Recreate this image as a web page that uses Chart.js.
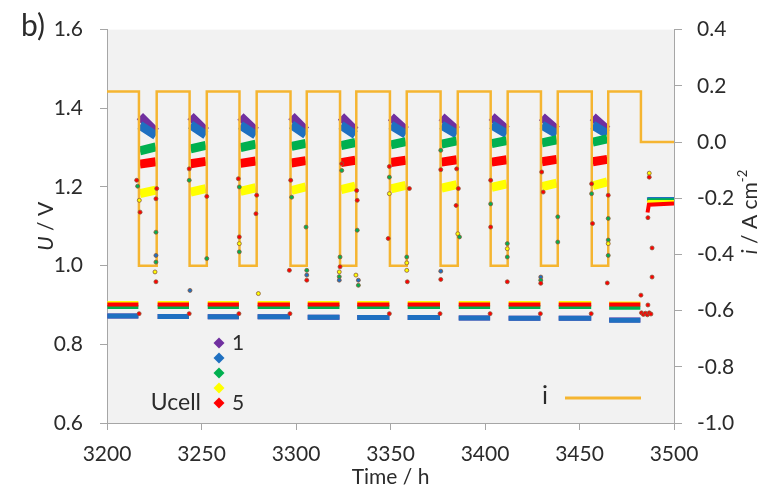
<!DOCTYPE html>
<html>
<head>
<meta charset="utf-8">
<script src="https://cdn.jsdelivr.net/npm/chart.js@4.4.1/dist/chart.umd.min.js"></script>
<style>
  body { margin: 0; background: #fff; }
  #wrap { width: 763px; height: 489px; position: relative; }
</style>
</head>
<body>
<div id="wrap"><canvas id="chart"></canvas></div>
<script>
// Current density profile (A cm-2), value changes at each time
const iTimes = [3200, 3216.9, 3226.3, 3243.7, 3252.8, 3270.1, 3279.2, 3297.1, 3305.7, 3323.3, 3331.9,
                3349.7, 3358.6, 3376.5, 3385.6, 3403.0, 3412.0, 3429.6, 3438.5, 3456.5, 3465.2, 3482.5, 3500];
const iValues = [0.18, -0.44, 0.18, -0.44, 0.18, -0.44, 0.18, -0.44, 0.18, -0.44, 0.18,
                 -0.44, 0.18, -0.44, 0.18, -0.44, 0.18, -0.44, 0.18, -0.44, 0.18, 0, 0];

// Operating periods (h)
const ecStart = [3217.4, 3244.2, 3270.6, 3297.6, 3323.8, 3350.2, 3377.0, 3403.5, 3430.1, 3457.0];
const ecEnd   = [3225.8, 3252.3, 3278.7, 3305.2, 3331.4, 3358.1, 3385.1, 3411.5, 3438.0, 3464.7];
const fcStart = [3200.2, 3226.8, 3253.3, 3279.7, 3306.2, 3332.4, 3359.1, 3386.1, 3412.5, 3439.0, 3465.7];
const fcEnd   = [3216.6, 3243.4, 3269.8, 3296.8, 3323.0, 3349.4, 3376.2, 3402.7, 3429.3, 3456.2, 3482.2];
const ocvTimes = [3486.0, 3486.7, 3500];

// Cell voltages (V): electrolysis [start, end], fuel cell level, open circuit
const cell1Ec = [[1.380, 1.340], [1.380, 1.342], [1.379, 1.342], [1.380, 1.343], [1.379, 1.343],
                 [1.378, 1.344], [1.378, 1.344], [1.379, 1.345], [1.378, 1.345], [1.378, 1.345]];
const cell2Ec = [[1.357, 1.331], [1.358, 1.332], [1.357, 1.332], [1.358, 1.333], [1.357, 1.333],
                 [1.357, 1.334], [1.357, 1.334], [1.358, 1.335], [1.357, 1.335], [1.357, 1.335]];
const cell3Ec = [[1.292, 1.302], [1.297, 1.306], [1.300, 1.309], [1.303, 1.311], [1.305, 1.313],
                 [1.307, 1.315], [1.309, 1.317], [1.310, 1.318], [1.312, 1.320], [1.314, 1.322]];
const cell4Ec = [[1.183, 1.192], [1.187, 1.196], [1.189, 1.198], [1.191, 1.200], [1.193, 1.202],
                 [1.195, 1.204], [1.197, 1.206], [1.199, 1.208], [1.201, 1.210], [1.203, 1.213]];
const cell5Ec = [[1.258, 1.264], [1.259, 1.265], [1.260, 1.266], [1.261, 1.267], [1.262, 1.268],
                 [1.262, 1.268], [1.263, 1.269], [1.263, 1.269], [1.264, 1.270], [1.264, 1.270]];

const cell1Fc = [0.872, 0.871, 0.870, 0.870, 0.869, 0.868, 0.868, 0.867, 0.866, 0.866, 0.862];
const cell2Fc = [0.872, 0.871, 0.870, 0.870, 0.869, 0.868, 0.868, 0.867, 0.866, 0.866, 0.861];
const cell3Fc = [0.895, 0.895, 0.895, 0.895, 0.895, 0.895, 0.895, 0.895, 0.895, 0.895, 0.893];
const cell4Fc = [0.905, 0.905, 0.905, 0.905, 0.905, 0.905, 0.905, 0.905, 0.905, 0.905, 0.904];
const cell5Fc = [0.901, 0.901, 0.901, 0.901, 0.901, 0.901, 0.901, 0.901, 0.901, 0.901, 0.901];

const cell1Ocv = [1.166, 1.167, 1.167];
const cell2Ocv = [1.167, 1.168, 1.168];
const cell3Ocv = [1.165, 1.166, 1.166];
const cell4Ocv = [1.160, 1.162, 1.162];
const cell5Ocv = [1.135, 1.155, 1.158];

// Scattered points during the switching transients
const trT = [3215.7, 3216.2, 3217.1, 3217.5, 3226.3, 3225.9, 3225.9, 3225.9, 3225.9, 3225.4, 3225.9, 3217.0,
             3243.5, 3243.5, 3243.9, 3252.8, 3252.8, 3243.5,
             3269.5, 3270.0, 3270.0, 3270.0, 3270.0, 3279.2, 3278.8, 3280.1, 3269.8,
             3297.2, 3297.7, 3305.3, 3296.5, 3305.7, 3305.7, 3305.7, 3296.8,
             3324.2, 3324.2, 3323.3, 3323.3, 3322.9, 3322.9, 3322.9, 3332.1, 3332.4, 3332.4, 3331.7, 3333.0, 3333.0,
             3349.4, 3349.4, 3349.4, 3348.8, 3358.6, 3358.6, 3358.6, 3358.9, 3360.0, 3349.4,
             3376.6, 3376.6, 3376.6, 3376.6, 3385.0, 3384.7, 3385.9, 3385.6, 3386.5, 3376.2,
             3403.0, 3403.0, 3403.0, 3411.8, 3411.8, 3411.8, 3411.8, 3402.7,
             3429.5, 3429.5, 3429.5, 3430.0, 3430.8, 3438.5, 3438.5, 3429.3,
             3456.4, 3456.4, 3456.9, 3465.2, 3465.2, 3465.2, 3465.2, 3465.2, 3464.7, 3456.2,
             3486.9, 3486.9, 3486.2, 3488.4, 3488.4, 3482.5, 3486.2,
             3482.8, 3483.8, 3484.9, 3485.9, 3486.9, 3487.8];
const trU = [1.217, 1.202, 1.166, 1.136, 1.196, 1.170, 1.085, 1.026, 1.009, 0.984, 0.959, 0.878,
             1.246, 1.217, 0.937, 1.176, 1.018, 0.878,
             1.221, 1.200, 1.073, 1.056, 1.035, 1.179, 1.132, 0.929, 0.878,
             1.217, 1.174, 1.098, 0.988, 0.988, 0.976, 0.963, 0.878,
             1.259, 1.242, 1.022, 0.997, 0.984, 0.972, 0.963, 1.191, 1.166, 1.090, 0.976, 0.963, 0.950,
             1.252, 1.225, 1.183, 1.069, 1.022, 1.007, 0.988, 0.959, 1.196, 0.878,
             1.293, 1.244, 0.986, 0.965, 1.246, 1.153, 1.196, 1.081, 1.073, 0.878,
             1.217, 1.157, 1.098, 1.056, 1.043, 1.022, 0.959, 0.878,
             0.971, 0.963, 0.955, 1.238, 1.187, 1.124, 1.060, 0.878,
             1.208, 1.183, 1.107, 1.179, 1.120, 1.065, 1.056, 1.026, 0.956, 0.878,
             1.235, 1.225, 1.122, 1.045, 0.971, 0.925, 0.900,
             0.880, 0.876, 0.879, 0.875, 0.880, 0.877];
const trCell = [5, 3, 4, 5, 5, 5, 3, 2, 3, 4, 5, 5,
                5, 3, 2, 5, 3, 5,
                5, 3, 5, 4, 3, 5, 5, 4, 5,
                5, 3, 3, 5, 3, 2, 5, 5,
                5, 3, 3, 5, 4, 3, 2, 5, 5, 3, 4, 2, 3,
                5, 3, 4, 5, 3, 4, 4, 5, 5, 5,
                3, 5, 2, 5, 5, 5, 5, 4, 3, 5,
                5, 3, 5, 3, 4, 3, 5, 5,
                2, 3, 5, 5, 5, 3, 3, 5,
                5, 3, 5, 5, 3, 3, 4, 3, 5, 5,
                4, 5, 5, 5, 5, 5, 5,
                5, 5, 5, 5, 5, 5];

const cellColors = ['#7030A0', '#1F70C1', '#00B050', '#FFFF00', '#FF0000'];
const currentColor = '#F5B531';
const axisColor = '#A6A6A6';
const textColor = '#2b2b2b';
const fontFamily = 'Lato';

const cells = [
    { ec: cell1Ec, fc: cell1Fc, ocv: cell1Ocv, ecWidth: 9, fcWidth: 5 },
    { ec: cell2Ec, fc: cell2Fc, ocv: cell2Ocv, ecWidth: 9, fcWidth: 5 },
    { ec: cell3Ec, fc: cell3Fc, ocv: cell3Ocv, ecWidth: 9, fcWidth: 4 },
    { ec: cell4Ec, fc: cell4Fc, ocv: cell4Ocv, ecWidth: 9, fcWidth: 4 },
    { ec: cell5Ec, fc: cell5Fc, ocv: cell5Ocv, ecWidth: 9, fcWidth: 4 }
];

// Build band data: segments separated by null gaps
function ecData(vals) {
    const pts = [];
    vals.forEach((v, k) => {
        pts.push({ x: ecStart[k], y: v[0] }, { x: ecEnd[k], y: v[1] }, { x: ecEnd[k] + 0.1, y: null });
    });
    return pts;
}

function fcData(vals, ocv) {
    const pts = [];
    vals.forEach((v, k) => {
        pts.push({ x: fcStart[k], y: v }, { x: fcEnd[k], y: v }, { x: fcEnd[k] + 0.1, y: null });
    });
    ocv.forEach((v, k) => pts.push({ x: ocvTimes[k], y: v }));
    return pts;
}

const datasets = [];
cells.forEach((c, idx) => {
    const common = {
        type: 'line',
        yAxisID: 'y',
        borderColor: cellColors[idx],
        pointRadius: 0,
        borderCapStyle: 'butt',
        spanGaps: false,
        order: 6 - idx
    };
    datasets.push(Object.assign({ label: 'Ucell ' + (idx + 1) + ' EC', data: ecData(c.ec), borderWidth: c.ecWidth }, common));
    datasets.push(Object.assign({ label: 'Ucell ' + (idx + 1) + ' FC', data: fcData(c.fc, c.ocv), borderWidth: c.fcWidth }, common));
});

datasets.push({
    type: 'line',
    label: 'i',
    yAxisID: 'y2',
    data: iTimes.map((t, k) => ({ x: t, y: iValues[k] })),
    borderColor: currentColor,
    borderWidth: 2.5,
    stepped: 'before',
    pointRadius: 0,
    order: 1
});

datasets.push({
    type: 'line',
    label: 'transients',
    yAxisID: 'y',
    data: trT.map((t, k) => ({ x: t, y: trU[k] })),
    showLine: false,
    pointRadius: 2,
    pointBackgroundColor: trCell.map(c => cellColors[c - 1]),
    pointBorderColor: 'rgba(140, 90, 60, 0.8)',
    pointBorderWidth: 1,
    order: 0
});

// Draw a line of text made of differently styled parts
function drawParts(ctx, parts, x, y, angle) {
    ctx.save();
    ctx.translate(x, y);
    ctx.rotate(angle);
    ctx.textBaseline = 'middle';
    ctx.textAlign = 'left';
    let total = 0;
    parts.forEach(p => { ctx.font = p.font; total += ctx.measureText(p.text).width; });
    let cx = -total / 2;
    parts.forEach(p => {
        ctx.font = p.font;
        ctx.fillText(p.text, cx, p.dy || 0);
        cx += ctx.measureText(p.text).width;
    });
    ctx.restore();
}

const decorations = {
    id: 'decorations',
    beforeDraw(chart) {
        const { ctx, chartArea: a } = chart;
        ctx.save();
        ctx.fillStyle = '#F2F2F2';
        ctx.fillRect(a.left, a.top, a.right - a.left, a.bottom - a.top);
        ctx.restore();
    },
    afterDraw(chart) {
        const { ctx, chartArea: a } = chart;
        ctx.save();
        ctx.fillStyle = textColor;

        // panel label
        ctx.font = '30px ' + fontFamily;
        ctx.textBaseline = 'alphabetic';
        ctx.textAlign = 'left';
        ctx.fillText('b)', 21, 36);

        // axis titles
        drawParts(ctx, [
            { text: 'U', font: 'italic 21px ' + fontFamily },
            { text: ' / V', font: '21px ' + fontFamily }
        ], 46, (a.top + a.bottom) / 2, -Math.PI / 2);
        drawParts(ctx, [
            { text: 'i', font: 'italic 21px ' + fontFamily },
            { text: ' / A cm', font: '21px ' + fontFamily },
            { text: '-2', font: '13px ' + fontFamily, dy: -7 }
        ], 750, 212, -Math.PI / 2);
        drawParts(ctx, [{ text: 'Time / h', font: '21px ' + fontFamily }], (a.left + a.right) / 2, 477, 0);

        // legend: cell voltage markers
        const lx = a.left + 112;
        const ly = [343, 358, 373, 388, 403];
        ly.forEach((yy, k) => {
            ctx.beginPath();
            ctx.moveTo(lx, yy - 5.5);
            ctx.lineTo(lx + 5.5, yy);
            ctx.lineTo(lx, yy + 5.5);
            ctx.lineTo(lx - 5.5, yy);
            ctx.closePath();
            ctx.fillStyle = cellColors[k];
            ctx.fill();
        });
        ctx.fillStyle = textColor;
        ctx.font = '21px ' + fontFamily;
        ctx.textBaseline = 'middle';
        ctx.textAlign = 'left';
        ctx.fillText('1', lx + 13, ly[0]);
        ctx.fillText('5', lx + 13, ly[4]);
        ctx.font = '23px ' + fontFamily;
        ctx.textAlign = 'right';
        ctx.fillText('Ucell', lx - 18, ly[4]);

        // legend: current line
        ctx.textAlign = 'left';
        ctx.font = '25px ' + fontFamily;
        ctx.fillText('i', a.left + 435, 396);
        ctx.strokeStyle = currentColor;
        ctx.lineWidth = 3;
        ctx.beginPath();
        ctx.moveTo(a.left + 458, 398);
        ctx.lineTo(a.left + 534, 398);
        ctx.stroke();
        ctx.restore();
    }
};

const tickFont = { family: fontFamily, size: 21 };

new Chart(document.getElementById('chart'), {
    type: 'line',
    data: { datasets: datasets },
    options: {
        responsive: true,
        maintainAspectRatio: false,
        animation: false,
        layout: { padding: { top: 29, left: 0, right: 0, bottom: 0 } },
        plugins: {
            legend: { display: false },
            tooltip: { enabled: false }
        },
        scales: {
            x: {
                type: 'linear',
                min: 3200,
                max: 3500,
                ticks: { stepSize: 50, callback: v => String(v), color: textColor, font: tickFont, padding: 12, maxRotation: 0 },
                grid: { drawOnChartArea: false, drawTicks: true, tickLength: 7, color: axisColor },
                border: { color: axisColor, width: 1 },
                afterFit: s => { s.height = 66; }
            },
            y: {
                position: 'left',
                min: 0.6,
                max: 1.6,
                ticks: { stepSize: 0.2, callback: v => v.toFixed(1), color: textColor, font: tickFont, padding: 17 },
                grid: { drawOnChartArea: false, drawTicks: true, tickLength: 7, color: axisColor },
                border: { color: axisColor, width: 1 },
                afterFit: s => { s.width = 107; }
            },
            y2: {
                position: 'right',
                min: -1.0,
                max: 0.4,
                ticks: { stepSize: 0.2, callback: v => (Math.abs(v) < 1e-9 ? 0 : v).toFixed(1), color: textColor, font: tickFont, padding: 15 },
                grid: { drawOnChartArea: false, drawTicks: true, tickLength: 8, color: axisColor },
                border: { color: axisColor, width: 1 },
                afterFit: s => { s.width = 89; }
            }
        }
    },
    plugins: [decorations]
});
</script>
</body>
</html>
